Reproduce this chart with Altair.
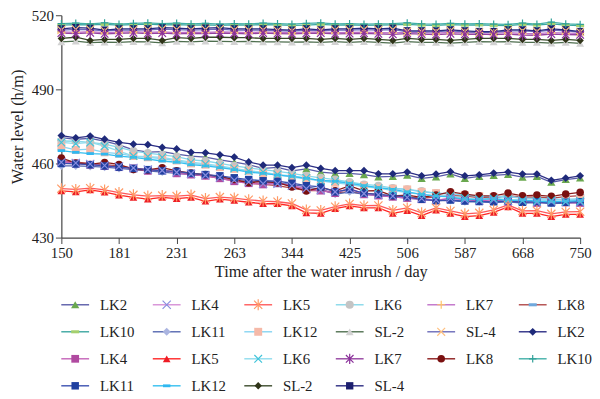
import altair as alt
import pandas as pd

# ---------------- data ----------------
tick_labels = ["150", "181", "231", "263", "344", "425", "506", "587", "668", "750"]

# first group of legend entries
lk2_a = [470.5, 469.8, 470.2, 469.0, 467.5, 465.5, 464.6, 464.8, 463.8, 463.0, 462.6, 461.5, 460.5, 459.5, 458.0, 458.4, 457.0, 457.8, 456.5, 456.0, 456.0, 455.5, 454.6, 454.8, 455.3, 454.0, 454.6, 455.8, 454.0, 454.8, 455.2, 455.6, 454.5, 454.8, 452.4, 453.5, 454.2]
lk4_a = [460.5, 460.2, 459.8, 459.2, 458.8, 458.2, 457.5, 457.2, 456.4, 455.8, 455.2, 454.3, 453.2, 452.5, 451.8, 451.8, 451.0, 449.8, 449.2, 448.5, 449.5, 447.8, 447.3, 446.8, 446.2, 445.8, 445.3, 445.8, 445.3, 445.0, 445.3, 444.8, 444.9, 444.3, 444.6, 444.4, 444.3]
lk5_a = [449.8, 449.5, 450.0, 449.3, 448.2, 447.3, 446.8, 447.0, 446.8, 447.2, 445.8, 446.4, 446.0, 445.3, 444.8, 444.5, 443.8, 441.2, 441.0, 442.5, 443.6, 442.9, 443.0, 441.0, 442.0, 440.0, 442.0, 440.8, 439.6, 440.0, 441.2, 443.2, 440.8, 440.9, 439.6, 440.4, 440.5]
lk6_a = [469.1, 469.0, 468.5, 467.8, 466.5, 465.0, 464.2, 463.5, 462.8, 461.5, 461.0, 460.0, 459.0, 458.2, 457.5, 456.8, 456.0, 455.0, 454.2, 453.5, 452.5, 451.5, 451.0, 450.0, 449.5, 448.8, 448.0, 447.5, 447.0, 446.5, 446.2, 446.5, 446.0, 445.5, 445.8, 445.2, 445.5]
lk7_a = [513.3, 513.1, 513.4, 513.0, 513.2, 513.4, 513.1, 513.3, 513.0, 513.2, 513.1, 513.3, 513.2, 513.0, 513.3, 513.1, 513.0, 513.2, 513.3, 513.0, 513.1, 513.2, 513.0, 512.9, 513.1, 513.0, 512.8, 513.1, 512.9, 513.0, 512.8, 513.0, 512.7, 512.6, 513.0, 512.8, 512.7]
lk8_a = [461.0, 460.5, 460.0, 459.5, 459.0, 458.0, 457.5, 457.2, 456.5, 455.5, 455.0, 454.0, 453.0, 452.0, 451.5, 451.0, 450.0, 449.0, 449.0, 448.2, 448.5, 447.8, 447.5, 446.5, 446.5, 446.0, 446.5, 447.0, 446.8, 446.2, 446.3, 447.0, 446.4, 446.5, 446.0, 446.6, 447.0]
lk10_a = [516.0, 516.2, 516.1, 516.3, 516.0, 516.2, 516.4, 516.1, 516.2, 516.0, 516.1, 515.9, 516.1, 516.0, 516.2, 516.1, 515.9, 516.0, 516.3, 516.0, 516.1, 515.9, 516.0, 516.1, 516.3, 516.0, 515.9, 516.2, 516.0, 516.1, 515.9, 515.8, 516.3, 516.0, 516.5, 516.0, 515.8]
lk11_a = [459.0, 459.0, 458.8, 458.5, 458.0, 457.5, 457.0, 456.5, 456.0, 455.5, 455.0, 454.5, 453.8, 453.0, 452.5, 452.0, 451.5, 450.5, 449.5, 447.5, 448.5, 447.5, 447.0, 446.5, 446.0, 445.5, 445.0, 445.0, 444.5, 444.5, 444.2, 444.5, 444.0, 444.2, 443.8, 444.0, 444.2]
lk12_a = [466.8, 465.5, 465.8, 464.5, 464.0, 463.0, 462.5, 462.0, 461.2, 460.0, 459.5, 458.5, 457.8, 457.0, 456.0, 455.5, 454.5, 453.8, 453.0, 452.2, 451.5, 451.0, 450.0, 449.8, 449.5, 448.5, 448.0, 447.8, 447.2, 446.8, 446.5, 446.8, 446.0, 445.8, 445.5, 445.5, 445.8]
sl2_a = [509.2, 509.5, 508.9, 509.1, 509.0, 509.3, 509.2, 508.8, 509.4, 509.2, 509.5, 509.4, 509.3, 509.4, 509.2, 509.2, 509.1, 509.2, 509.0, 509.3, 509.0, 509.3, 509.0, 508.7, 509.3, 509.0, 509.0, 508.7, 509.0, 509.3, 509.2, 509.3, 509.0, 509.0, 508.7, 509.0, 508.6]
sl4_a = [514.0, 514.3, 514.2, 513.7, 514.0, 514.0, 514.1, 514.4, 514.2, 514.0, 514.2, 514.4, 514.0, 514.0, 514.0, 513.8, 513.6, 514.0, 513.8, 514.0, 514.0, 514.2, 514.0, 514.2, 513.4, 513.3, 513.4, 513.7, 513.3, 513.1, 513.1, 513.7, 513.7, 513.4, 514.0, 513.7, 513.2]

# second group of legend entries
lk2_b = [471.3, 470.4, 471.1, 469.8, 468.5, 467.8, 467.6, 466.5, 465.9, 464.5, 464.3, 463.5, 462.6, 460.6, 459.3, 459.3, 458.3, 459.3, 458.0, 457.1, 457.1, 457.1, 455.8, 455.8, 456.5, 455.0, 455.7, 456.7, 455.0, 455.4, 456.1, 456.5, 455.7, 455.7, 453.2, 454.1, 455.0]
lk4_b = [461.0, 460.0, 459.5, 459.0, 458.5, 458.0, 457.0, 457.5, 456.0, 455.5, 455.0, 454.0, 452.8, 452.0, 451.5, 452.0, 451.0, 449.5, 449.0, 448.0, 450.0, 447.5, 447.0, 446.5, 446.0, 445.5, 445.0, 446.0, 445.5, 444.8, 445.5, 444.5, 444.8, 444.0, 444.5, 444.2, 444.0]
lk5_b = [448.9, 448.5, 449.3, 448.4, 447.2, 446.3, 445.6, 446.3, 445.8, 446.3, 444.7, 445.6, 445.0, 444.3, 443.7, 443.7, 442.8, 440.0, 439.8, 441.7, 442.8, 442.0, 442.0, 439.8, 440.9, 438.9, 441.1, 439.8, 438.5, 438.9, 440.2, 442.4, 439.8, 439.8, 438.5, 439.4, 439.4]
lk6_b = [468.5, 468.0, 468.5, 467.0, 465.0, 463.0, 462.8, 462.5, 461.5, 460.5, 459.8, 459.0, 458.0, 457.0, 456.5, 455.5, 455.0, 454.2, 453.0, 452.8, 451.5, 450.5, 450.0, 449.0, 448.2, 447.5, 447.0, 446.8, 446.0, 445.5, 445.8, 445.5, 445.0, 444.8, 445.0, 444.6, 444.8]
lk7_b = [512.8, 512.6, 512.9, 512.5, 512.7, 512.9, 512.6, 512.8, 512.5, 512.7, 512.6, 512.8, 512.7, 512.5, 512.8, 512.6, 512.5, 512.7, 512.8, 512.5, 512.6, 512.7, 512.5, 512.3, 512.6, 512.4, 512.2, 512.5, 512.3, 512.4, 512.2, 512.4, 512.0, 511.9, 512.4, 512.2, 512.1]
lk8_b = [462.2, 460.2, 459.6, 460.4, 459.6, 457.6, 457.4, 458.3, 457.0, 456.1, 455.5, 454.8, 453.5, 452.2, 452.8, 452.2, 450.5, 448.9, 450.2, 448.9, 450.9, 448.9, 449.0, 446.9, 447.2, 446.3, 447.2, 448.5, 447.6, 446.9, 446.9, 448.0, 446.9, 447.2, 446.7, 447.6, 448.3]
lk10_b = [516.6, 516.8, 516.5, 516.9, 516.4, 516.7, 516.9, 516.6, 516.8, 516.5, 516.7, 516.4, 516.6, 516.5, 516.8, 516.6, 516.4, 516.7, 516.9, 516.5, 516.6, 516.4, 516.5, 516.6, 516.9, 516.5, 516.4, 516.7, 516.5, 516.6, 516.4, 516.3, 516.8, 516.4, 517.2, 516.5, 516.3]
lk11_b = [460.0, 459.8, 459.5, 459.0, 458.5, 458.0, 457.5, 457.0, 456.8, 456.0, 455.5, 455.0, 454.2, 453.5, 453.0, 452.8, 452.0, 451.0, 450.5, 448.5, 449.5, 448.0, 447.5, 447.0, 446.5, 445.5, 445.0, 445.2, 444.8, 444.6, 444.5, 444.8, 444.3, 444.5, 444.0, 444.3, 444.5]
lk12_b = [465.2, 464.5, 464.0, 463.8, 463.0, 462.5, 461.8, 461.0, 460.5, 459.5, 459.0, 458.3, 457.5, 456.5, 456.0, 455.3, 454.8, 454.0, 453.2, 452.8, 452.0, 451.0, 450.2, 449.5, 448.5, 447.5, 446.8, 446.5, 445.5, 445.5, 445.8, 445.0, 445.3, 444.8, 444.5, 444.8, 445.0]
sl2_b = [510.6, 511.1, 509.8, 510.2, 510.2, 510.6, 510.6, 509.8, 510.9, 510.6, 511.1, 511.1, 510.9, 510.9, 510.6, 510.6, 510.6, 510.6, 510.2, 510.6, 510.2, 510.6, 510.2, 509.8, 510.6, 510.2, 510.2, 509.8, 510.2, 510.6, 510.6, 510.6, 510.2, 510.2, 509.8, 510.2, 509.8]
sl4_b = [514.5, 515.0, 514.8, 514.0, 514.5, 514.5, 514.5, 515.0, 514.8, 514.5, 514.8, 515.0, 514.5, 514.5, 514.5, 514.2, 514.0, 514.5, 514.1, 514.5, 514.5, 514.8, 514.5, 514.8, 513.7, 513.7, 513.7, 514.1, 513.7, 513.4, 513.4, 514.1, 514.1, 513.7, 514.5, 514.1, 513.4]

labels = ["LK2", "LK4", "LK5", "LK6", "LK7", "LK8", "LK10", "LK11", "LK12", "SL-2", "SL-4",
          "LK2", "LK4", "LK5", "LK6", "LK7", "LK8", "LK10", "LK11", "LK12", "SL-2", "SL-4"]
values = [lk2_a, lk4_a, lk5_a, lk6_a, lk7_a, lk8_a, lk10_a, lk11_a, lk12_a, sl2_a, sl4_a,
          lk2_b, lk4_b, lk5_b, lk6_b, lk7_b, lk8_b, lk10_b, lk11_b, lk12_b, sl2_b, sl4_b]

# ---------------- styles ----------------
X_PATH = "M-1,-1L1,1M-1,1L1,-1"
AST_PATH = "M-1,-1L1,1M-1,1L1,-1M0,-1.35L0,1.35"
PLUS_PATH = "M-1,0L1,0M0,-1L0,1"
DASH_PATH = "M-1,-0.38L1,-0.38L1,0.38L-1,0.38Z"

line_colors = ["#5a5ca8", "#d68ed6", "#ff5a5a", "#86d8ea", "#c070c8", "#b04848", "#3aa6a0", "#5566b0", "#86d4f2", "#4f6f4f", "#6a6ab8",
               "#2b2d84", "#c462b8", "#ff2424", "#8edced", "#94409f", "#8b1a1a", "#40b0a8", "#3a50b0", "#33bff0", "#3a4a2a", "#2a2a80"]
shapes = ["triangle-up", X_PATH, AST_PATH, "circle", PLUS_PATH, DASH_PATH, DASH_PATH, "diamond", "square", "triangle-up", X_PATH,
          "diamond", "square", "triangle-up", X_PATH, AST_PATH, "circle", PLUS_PATH, "square", DASH_PATH, "diamond", "square"]
sizes = [70, 55, 75, 95, 65, 22, 60, 55, 95, 70, 60,
         100, 95, 100, 65, 75, 110, 75, 16, 60, 85, 110]
marker_colors = ["#6aa84f", "#8a8ee0", "#ff9a66", "#c4c4c4", "#ffc566", "#6fa8dc", "#a5d06e", "#aab4e0", "#f5b9a8", "#d2d2d2", "#ffc080",
                 "#1f2a7a", "#b04aa0", "#ee1c25", "#40c4da", "#8a2f9a", "#7a1010", "#30a098", "#2040a0", "#30b8f0", "#2f3418", "#1c1f6e"]
stroked = [False, True, True, False, True, False, False, False, False, False, True,
           False, False, False, True, True, False, True, False, False, False, False]

keys = [("A-" if i < 11 else "B-") + lab for i, lab in enumerate(labels)]
filled_keys = [k for k, s in zip(keys, stroked) if not s]
filled_cols = [c for c, s in zip(marker_colors, stroked) if not s]
stroked_keys = [k for k, s in zip(keys, stroked) if s]
stroked_cols = [c for c, s in zip(marker_colors, stroked) if s]

rows = []
for k, lab, vals in zip(keys, labels, values):
    for i, v in enumerate(vals):
        rows.append({"key": k, "label": lab, "idx": i, "level": v})
df = pd.DataFrame(rows)

leg = pd.DataFrame({"key": keys, "label": labels,
                    "col": [i % 6 for i in range(len(keys))],
                    "row": [i // 6 for i in range(len(keys))]})

line_scale = alt.Scale(domain=keys, range=line_colors)
shape_scale = alt.Scale(domain=keys, range=shapes)
size_scale = alt.Scale(domain=keys, range=sizes)
fill_scale = alt.Scale(domain=filled_keys, range=filled_cols)
stroke_scale = alt.Scale(domain=stroked_keys, range=stroked_cols)

FONT = "Liberation Serif"
label_expr = "[" + ",".join("'" + t + "'" for t in tick_labels) + "][round(datum.value/4)]"

x_main = alt.X("idx:Q", scale=alt.Scale(domain=[0, 36], nice=False, zero=False),
               axis=alt.Axis(values=list(range(0, 37, 4)), labelExpr=label_expr, labelFlush=False,
                             title="Time after the water inrush / day", titlePadding=3))
y_main = alt.Y("level:Q", scale=alt.Scale(domain=[430, 520], nice=False, zero=False),
               axis=alt.Axis(values=[430, 460, 490, 520], title="Water level (h/m)", titlePadding=6,
                             labelFlush=False))

base = alt.Chart(df)
lines = base.mark_line(strokeWidth=1.3).encode(
    x=x_main, y=y_main,
    color=alt.Color("key:N", scale=line_scale, legend=None),
    order="idx:Q")
pts_f = base.transform_filter(alt.FieldOneOfPredicate(field="key", oneOf=filled_keys)).mark_point(
    filled=True, opacity=1).encode(
    x="idx:Q", y="level:Q",
    shape=alt.Shape("key:N", scale=shape_scale, legend=None),
    size=alt.Size("key:N", scale=size_scale, legend=None),
    fill=alt.Fill("key:N", scale=fill_scale, legend=None))
pts_s = base.transform_filter(alt.FieldOneOfPredicate(field="key", oneOf=stroked_keys)).mark_point(
    filled=False, opacity=1, strokeWidth=1.2).encode(
    x="idx:Q", y="level:Q",
    shape=alt.Shape("key:N", scale=shape_scale, legend=None),
    size=alt.Size("key:N", scale=size_scale, legend=None),
    stroke=alt.Stroke("key:N", scale=stroke_scale, legend=None))
main = alt.layer(lines, pts_f, pts_s)

# legend drawn from data through its own scales
lx = alt.Scale(domain=[0, 5], range=[14, 477])
ly = alt.Scale(domain=[0, 3], range=[293, 375])
lbase = alt.Chart(leg).transform_calculate(c0="datum.col - 0.152", c1="datum.col + 0.152")
l_rule = lbase.mark_rule(strokeWidth=1.4).encode(
    x=alt.X("c0:Q", scale=lx, axis=None), x2="c1:Q",
    y=alt.Y("row:Q", scale=ly, axis=None),
    color=alt.Color("key:N", scale=line_scale, legend=None))
l_pf = lbase.transform_filter(alt.FieldOneOfPredicate(field="key", oneOf=filled_keys)).mark_point(
    filled=True, opacity=1).encode(
    x=alt.X("col:Q", scale=lx, axis=None), y=alt.Y("row:Q", scale=ly, axis=None),
    shape=alt.Shape("key:N", scale=shape_scale, legend=None),
    size=alt.Size("key:N", scale=size_scale, legend=None),
    fill=alt.Fill("key:N", scale=fill_scale, legend=None))
l_ps = lbase.transform_filter(alt.FieldOneOfPredicate(field="key", oneOf=stroked_keys)).mark_point(
    filled=False, opacity=1, strokeWidth=1.2).encode(
    x=alt.X("col:Q", scale=lx, axis=None), y=alt.Y("row:Q", scale=ly, axis=None),
    shape=alt.Shape("key:N", scale=shape_scale, legend=None),
    size=alt.Size("key:N", scale=size_scale, legend=None),
    stroke=alt.Stroke("key:N", scale=stroke_scale, legend=None))
l_txt = lbase.mark_text(align="left", baseline="middle", dx=25, font=FONT, fontSize=15, color="#222").encode(
    x=alt.X("col:Q", scale=lx, axis=None), y=alt.Y("row:Q", scale=ly, axis=None),
    text="label:N")
legend = alt.layer(l_rule, l_pf, l_ps, l_txt)

chart = alt.layer(main, legend).resolve_scale(x="independent", y="independent").properties(
    width=525, height=225,
    autosize=alt.AutoSizeParams(type="none"),
    padding={"left": 54, "top": 5, "right": 12, "bottom": 160},
).configure_view(stroke=None).configure_axis(
    grid=False, labelFont=FONT, titleFont=FONT, labelFontSize=15, titleFontSize=16.5,
    titleFontWeight="normal", labelColor="#222", titleColor="#222",
    domainColor="#444", tickColor="#444", tickSize=6, labelPadding=2, domainWidth=1.2,
)

chart.save("out.html", embed_options={"renderer": "svg", "actions": False})
